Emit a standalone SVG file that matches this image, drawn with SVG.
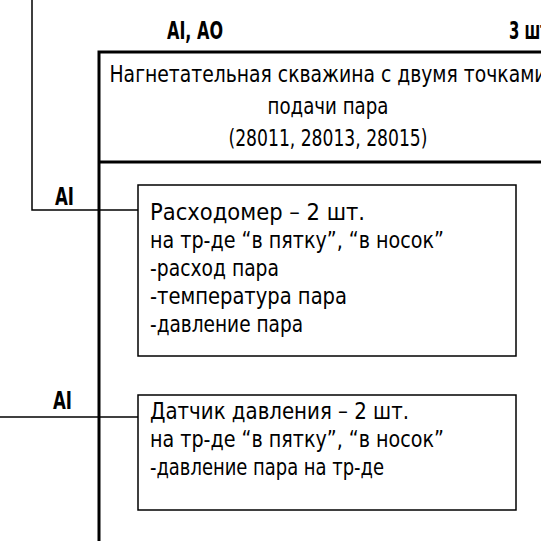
<svg xmlns="http://www.w3.org/2000/svg" width="541" height="541" viewBox="0 0 541 541">
  <style>
    .txt { font-family: "Liberation Sans Narrow", "DejaVu Sans Condensed", "Liberation Sans", sans-serif; font-size: 23px; font-weight: 200; fill: #000; }
    .lbl { font-family: "Liberation Sans Narrow", "DejaVu Sans Condensed", "Liberation Sans", sans-serif; font-size: 24px; font-weight: bold; fill: #000; }
    .thin { stroke: #000; stroke-width: 1.5; fill: none; }
    .thick { stroke: #000; stroke-width: 3; fill: none; }
  </style>
  <rect width="541" height="541" fill="#fff"/>

  <!-- signal lines -->
  <g id="connectors">
    <polyline class="thin" points="32,0 32,210 99,210"/>
    <line class="thin" x1="99" y1="210" x2="138" y2="210"/>
    <line class="thin" x1="0" y1="417" x2="138" y2="417"/>
  </g>

  <!-- header labels -->
  <g id="header">
    <text class="lbl" x="167" y="39" textLength="56" lengthAdjust="spacingAndGlyphs">AI, AO</text>
    <text class="lbl" x="509" y="39" textLength="40" lengthAdjust="spacingAndGlyphs">3 шт</text>
  </g>

  <!-- injection well block -->
  <g id="well">
    <polyline class="thick" points="541,52 99,52 99,541"/>
    <line class="thick" x1="99" y1="162" x2="541" y2="162"/>
    <text class="txt" x="328" y="82" text-anchor="middle" textLength="437" lengthAdjust="spacingAndGlyphs">Нагнетательная скважина с двумя точками</text>
    <text class="txt" x="328" y="114" text-anchor="middle" textLength="121" lengthAdjust="spacingAndGlyphs">подачи пара</text>
    <text class="txt" x="328" y="146" text-anchor="middle" textLength="199" lengthAdjust="spacingAndGlyphs">(28011, 28013,  28015)</text>
  </g>

  <!-- flow meter -->
  <g id="flowmeter">
    <text class="lbl" x="55" y="205" textLength="19" lengthAdjust="spacingAndGlyphs">AI</text>
    <rect class="thin" x="138" y="185" width="378" height="171"/>
    <text class="txt" x="150" y="220" textLength="215" lengthAdjust="spacingAndGlyphs">Расходомер – 2 шт.</text>
    <text class="txt" x="150" y="248" textLength="294" lengthAdjust="spacingAndGlyphs">на тр-де “в пятку”, “в носок”</text>
    <text class="txt" x="150" y="276" textLength="129" lengthAdjust="spacingAndGlyphs">-расход пара</text>
    <text class="txt" x="150" y="304" textLength="197" lengthAdjust="spacingAndGlyphs">-температура пара</text>
    <text class="txt" x="150" y="332" textLength="153" lengthAdjust="spacingAndGlyphs">-давление пара</text>
  </g>

  <!-- pressure sensor -->
  <g id="pressure">
    <text class="lbl" x="53" y="409" textLength="19" lengthAdjust="spacingAndGlyphs">AI</text>
    <rect class="thin" x="138" y="395" width="378" height="115"/>
    <text class="txt" x="150" y="419" textLength="259" lengthAdjust="spacingAndGlyphs">Датчик давления – 2 шт.</text>
    <text class="txt" x="150" y="447" textLength="294" lengthAdjust="spacingAndGlyphs">на тр-де “в пятку”, “в носок”</text>
    <text class="txt" x="150" y="475" textLength="234" lengthAdjust="spacingAndGlyphs">-давление пара на тр-де</text>
  </g>
</svg>
